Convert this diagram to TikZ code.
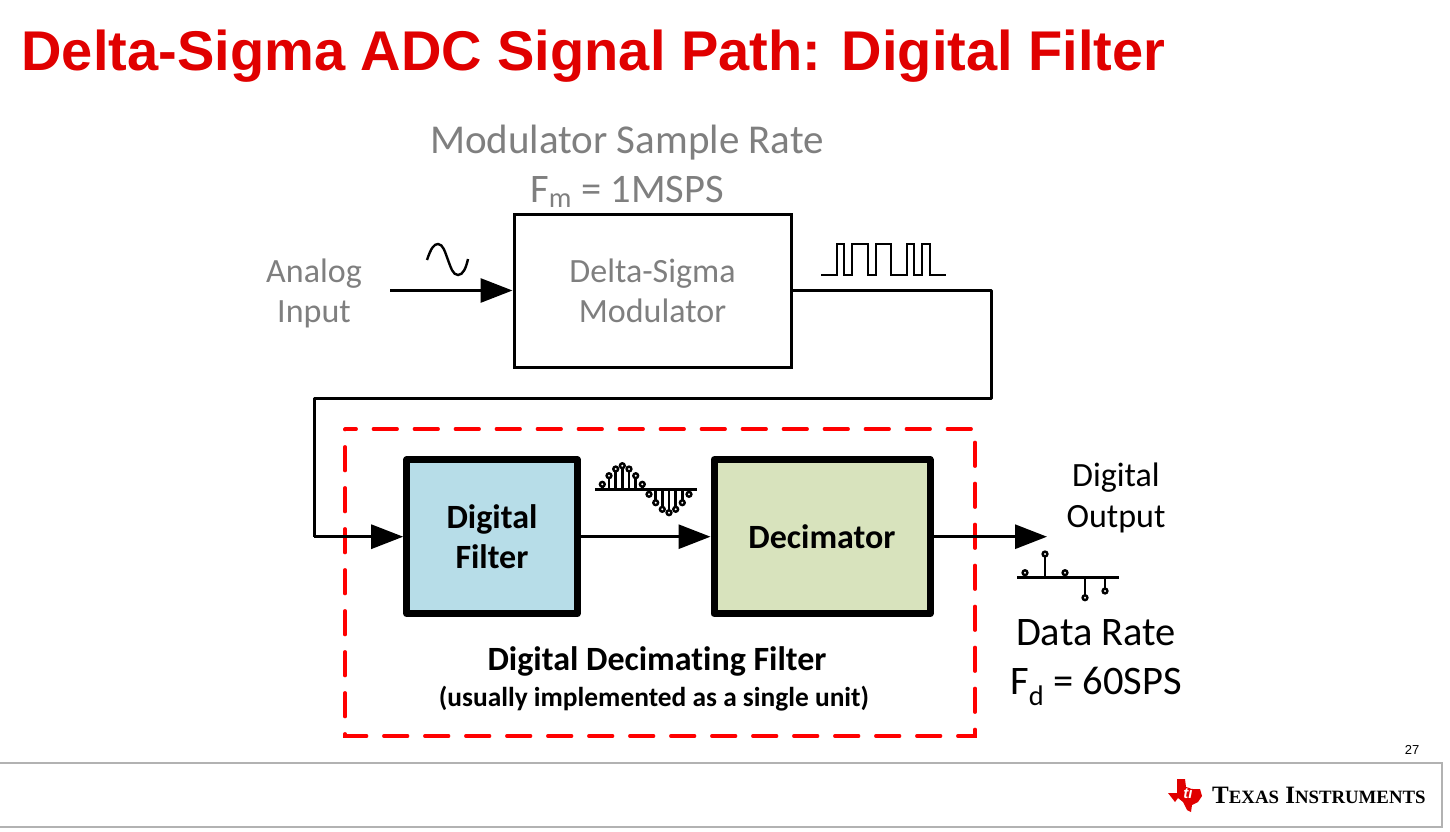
\documentclass[tikz,border=0pt]{standalone}
\usepackage{fontspec}
\setmainfont[Ligatures=CommonOff]{Carlito}
\newfontfamily\arialfont{Liberation Sans}
\newfontfamily\logofont{Liberation Serif}
\usetikzlibrary{arrows.meta}
\definecolor{tired}{HTML}{E00000}
\definecolor{labelgray}{HTML}{7F7F7F}
\definecolor{filterblue}{HTML}{B7DDE8}
\definecolor{decimgreen}{HTML}{D8E3BD}
\tikzset{
  grayt/.style={text=labelgray,align=center,font=\fontsize{34}{40}\selectfont},
  headt/.style={text=labelgray,font=\fontsize{41}{50}\selectfont},
  ratet/.style={font=\fontsize{40.5}{50}\selectfont},
  boldt/.style={align=center,font=\bfseries\fontsize{34}{40}\selectfont},
  block/.style={draw,line width=3pt,inner sep=0pt,anchor=north west},
  thickblock/.style={draw,line width=7pt,line join=round,inner sep=0pt,anchor=north west},
  sig/.style={line width=3pt,-{Triangle[length=32pt,width=24pt]}},
  wire/.style={line width=3pt,line join=round},
  wave/.style={line width=2.4pt},
  stem/.style={line width=2.8pt},
  dot/.style={line width=2.4pt,fill=white}
}
\begin{document}
\begin{tikzpicture}[x=1pt,y=-1pt]
  \useasboundingbox (0,0) rectangle (1450,832);
  \node[anchor=west,text=tired,font=\arialfont\bfseries\fontsize{56}{60}\selectfont] (title) at (18,56) {Delta-Sigma ADC Signal Path: Digital Filter};

  \node[headt] (rate) at (627,143) {Modulator Sample Rate};
  \node[headt,font=\fontsize{40.5}{50}\selectfont] (fm) at (627,192) {F\textsubscript{m} = 1MSPS};
  \node[grayt] (analog) at (314,293) {Analog\\Input};

  \node[block,minimum width=277pt,minimum height=153pt] (modulator) at (512.5,212.5) {};
  \node[grayt] (modtext) at (modulator.center) {Delta-Sigma\\Modulator};

  \draw[red,line width=3.2pt,line cap=round,dash pattern=on 24pt off 17pt,dash phase=12.7pt]
    (345,429) -- (975,429) -- (975,736) -- (345,736) -- cycle;

  \node[thickblock,fill=filterblue,minimum width=170.5pt,minimum height=154pt] (filter) at (403.2,456.2) {};
  \node[thickblock,fill=decimgreen,minimum width=216pt,minimum height=154pt] (decimator) at (710.5,456.2) {};
  \node[boldt] (filtertext) at (filter.center) {Digital\\Filter};
  \node[boldt] (dectext) at (decimator.center) {Decimator};

  \coordinate (inport) at (390,290.5);
  \coordinate (outport) at (1047,536.7);
  \coordinate (loopin) at (314,536.7);
  \draw[sig] (inport) -- (modulator.west);
  \draw[wire] (modulator.east) -- (991,290.5) -- (991,398) -- (314,398) -- (loopin);
  \draw[sig] (loopin) -- (filter.west);
  \draw[sig] (filter.east) -- (decimator.west);
  \draw[sig] (decimator.east) -- (outport);

  \draw[wave] (427,260) .. controls (431,248) and (434,244) .. (438,244)
    .. controls (443,244) and (445,252) .. (448,260)
    .. controls (451,268) and (453,275) .. (458,275)
    .. controls (463,275) and (466,268) .. (468,259);
  \draw[wave] (821,275) -- (837,275) -- (837,244) -- (844,244) -- (844,275) -- (852,275) -- (852,244)
    -- (868,244) -- (868,275) -- (876,275) -- (876,244) -- (891,244) -- (891,275) -- (907,275)
    -- (907,244) -- (914,244) -- (914,275) -- (922,275) -- (922,244) -- (930,244) -- (930,275) -- (946,275);

  \draw[stem] (595,489.3) -- (697,489.3);
  \foreach \x/\y in {602.3/484.3,609/475.7,615.7/469,622.3/465.7,629/469,635.7/475.7,642.3/484.3,
    649/494.3,655.7/502.7,662.3/509.3,669/512.7,675.7/509.3,682.3/502.7,689/494.3} {
    \draw[stem] (\x,489.3) -- (\x,\y);
    \draw[dot] (\x,\y) circle (2.4pt);
  }
  \draw[stem] (1017,577.7) -- (1119,577.7);
  \foreach \x/\y in {1025/572.7,1045/554,1065/572.7,1085/597.7,1105/591} {
    \draw[stem] (\x,577.7) -- (\x,\y);
    \draw[dot] (\x,\y) circle (2.4pt);
  }

  \node[boldt,font=\fontsize{34}{41}\selectfont] (output) at (1116,497.5) {Digital\\Output};
  \node[ratet] (datarate) at (1096,633) {Data Rate};
  \node[ratet] (fd) at (1096,686) {F\textsubscript{d} = 60SPS};
  \node[boldt] (ddf) at (657,661) {Digital Decimating Filter};
  \node[font=\bfseries\fontsize{27.4}{30}\selectfont] (usually) at (654,699) {(usually implemented as a single unit)};

  \node[font=\arialfont\fontsize{13}{15}\selectfont] (page) at (1412,750) {27};
  \draw[black!30,line width=1.2pt] (0,763) -- (1442,763) -- (1442,827) -- (0,827);
  \fill[tired] (1177,779) -- (1185,779) -- (1186,787) -- (1193,789) -- (1200,789) -- (1202,796) -- (1198,802)
    -- (1192,805) -- (1191,812) -- (1187,810) -- (1183,802) -- (1178,798) -- (1175,802) -- (1168,793) -- (1177,793) -- cycle;
  \node[text=white,inner sep=0pt,font=\arialfont\bfseries\itshape\fontsize{15}{15}\selectfont] (logomark) at (1188,793) {ti};
  \node[font=\logofont\bfseries\fontsize{25}{26}\selectfont,anchor=west,inner sep=0pt] (logo) at (1212,795)
    {T{\fontsize{18.8}{20}\selectfont EXAS} I{\fontsize{18.8}{20}\selectfont NSTRUMENTS}};
\end{tikzpicture}
\end{document}
